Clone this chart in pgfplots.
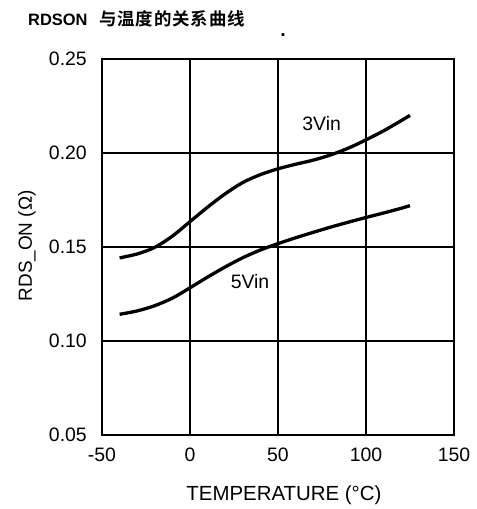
\documentclass[border=0pt]{standalone}
\usepackage{fontspec}
\setmainfont{Liberation Sans}
\newfontfamily\cjk[LetterSpace=5]{Noto Sans CJK SC Bold}
\usepackage{pgfplots}
\pgfplotsset{compat=1.18}

% On-resistance vs. temperature, two supply voltages
\pgfplotstableread{
T     R
-40   0.1442
-30   0.1463
-20   0.1498
-10   0.1558
0     0.1635
10    0.1712
20    0.1783
30    0.1843
40    0.1885
50    0.1916
60    0.1940
70    0.1962
80    0.1990
90    0.2026
100   0.2070
110   0.2118
120   0.2172
125   0.2200
}\vthree
\pgfplotstableread{
T     R
-40   0.1142
-30   0.1160
-20   0.1188
-10   0.1228
0     0.1283
10    0.1340
20    0.1394
30    0.1443
40    0.1484
50    0.1518
60    0.1549
70    0.1578
80    0.1606
90    0.1632
100   0.1657
110   0.1681
120   0.1706
125   0.1720
}\vfive

\begin{document}
\begin{tikzpicture}
\useasboundingbox (0,0) rectangle (477bp,509bp);
\node[anchor=base west, inner sep=0pt, font=\fontsize{16.5}{18}\selectfont\bfseries] at (28bp,483bp) {RDSON};
\node[anchor=base west, inner sep=0pt, font=\cjk\fontsize{17.5}{18}\selectfont] at (99bp,483bp) {与温度的关系曲线};
\node[anchor=base, inner sep=0pt, font=\fontsize{19.5}{20}\selectfont\bfseries] at (283bp,472.5bp) {.};
\begin{axis}[
  at={(102bp,74bp)}, anchor=south west,
  scale only axis, width=352bp, height=376bp,
  xmin=-50, xmax=150, ymin=0.05, ymax=0.25,
  xtick={-50,0,50,100,150},
  ytick={0.05,0.10,0.15,0.20,0.25},
  grid=major,
  major grid style={black, line width=1.1bp},
  axis line style={black, line width=1.8bp},
  major tick length=0pt,
  /pgf/number format/assume math mode=true,
  tick label style={font=\fontsize{19.5}{20}\selectfont, inner sep=0pt},
  yticklabel style={/pgf/number format/.cd, fixed, fixed zerofill, precision=2, /tikz/.cd, xshift=-15bp},
  xticklabel style={yshift=-13bp},
  scaled y ticks=false,
  xlabel={TEMPERATURE (°C)},
  xlabel style={font=\fontsize{20.5}{22}\selectfont, at={(axis description cs:0.517,-0.1729)}, anchor=base, inner sep=0pt},
  ylabel={RDS\_ON (Ω)},
  ylabel style={font=\fontsize{19}{22}\selectfont, at={(axis description cs:-0.1989,0.503)}, anchor=base, rotate=0, inner sep=0pt},
]
\addplot[black, line width=3.3bp, smooth] table[x=T, y=R] {\vthree};
\addplot[black, line width=3.3bp, smooth] table[x=T, y=R] {\vfive};
\node[font=\fontsize{19.5}{20}\selectfont] at (axis cs:74.8,0.2159) {3Vin};
\node[font=\fontsize{19.5}{20}\selectfont] at (axis cs:34.1,0.1317) {5Vin};
\end{axis}
\end{tikzpicture}
\end{document}
